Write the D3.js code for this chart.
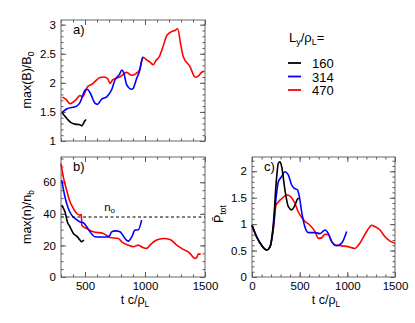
<!DOCTYPE html>
<html>
<head>
<meta charset="utf-8">
<script src="https://cdn.jsdelivr.net/npm/d3@7"></script>
<style>
  body { margin: 0; background: #fff; }
  text { font-family: "Liberation Sans", Arial, sans-serif; fill: #000; }
</style>
</head>
<body>
<svg id="chart" width="415" height="323"></svg>
<script>
// legend values (L_y / rho_L)
const sizes = ["160", "314", "470"];
const colors = ["#000000", "#0000ff", "#ff0000"];

// panel a) max(B)/B0 vs t c/rho_L  -- [t, value]
const magB160 = [[308,1.49],[347,1.39],[381,1.32],[417,1.29],[458,1.28],[472,1.26],[500,1.35],[510,1.37]];
const magB314 = [[308,1.49],[347,1.55],[431,1.60],[458,1.66],[500,1.87],[519,1.89],[542,1.83],[583,1.65],[603,1.63],
  [639,1.72],[681,1.76],[722,1.88],[750,2.05],[786,2.14],[808,2.22],[822,2.18],[847,1.97],[889,1.89],[900,1.90],
  [931,2.08],[953,2.19],[980,2.43],[986,2.44]];
const magB470 = [[311,1.75],[340,1.72],[375,1.64],[420,1.70],[458,1.78],[480,1.76],[519,1.93],[560,1.98],[625,2.09],
  [660,2.10],[690,2.07],[708,1.99],[730,2.05],[790,2.10],[847,2.18],[889,2.13],[925,2.16],[953,2.22],[986,2.44],
  [1010,2.40],[1040,2.36],[1069,2.31],[1090,2.38],[1119,2.45],[1150,2.62],[1181,2.81],[1222,2.88],[1250,2.90],
  [1272,2.93],[1300,2.63],[1319,2.45],[1375,2.28],[1417,2.10],[1440,2.11],[1478,2.19],[1490,2.20]];

// panel b) max(n)/n_b vs t c/rho_L
const dens160 = [[306,45.5],[320,43.5],[333,41.3],[353,34.9],[375,31.8],[403,27.6],[431,25.9],[458,23.4],[472,22.3],[490,23.4]];
const dens314 = [[306,61.3],[333,50.7],[361,43.4],[389,39.2],[417,37.1],[458,34.9],[486,34.4],[514,31.8],[542,28.6],
  [583,25.5],[625,25.3],[681,25.3],[708,26.5],[722,28.6],[750,29.2],[792,28.6],[833,24.4],[861,22.7],[889,25.3],
  [917,29.7],[944,29.9],[972,36.0]];
const dens470 = [[300,71.8],[319,63.4],[347,55.0],[375,47.6],[403,43.4],[431,40.2],[458,39.2],[470,39.6],[473,33.0],
  [486,31.8],[520,30.5],[569,28.6],[653,27.6],[708,25.0],[778,24.4],[806,22.3],[861,20.2],[903,19.2],[944,20.2],
  [986,18.5],[1014,18.1],[1042,20.2],[1097,23.4],[1153,24.4],[1208,23.8],[1264,20.2],[1319,17.5],[1375,15.0],
  [1403,12.4],[1417,11.8],[1431,12.4],[1444,14.5],[1464,14.5]];
const n0Level = 38;

// panel c) P_tot vs t c/rho_L
const pTot160 = [[0,0.98],[49,0.76],[101,0.60],[154,0.51],[189,0.57],[224,1.01],[259,1.90],[276,2.15],[294,2.18],
  [311,2.09],[346,1.64],[381,1.33],[416,1.27],[451,1.36],[476,1.47],[492,1.49]];
const pTot314 = [[0,0.98],[49,0.76],[101,0.60],[154,0.51],[189,0.57],[224,0.95],[252,1.49],[276,1.80],[311,1.90],
  [346,1.99],[381,1.93],[416,1.74],[441,1.68],[476,1.65],[497,1.52],[521,1.23],[556,0.94],[591,0.84],[661,0.84],
  [713,0.82],[766,0.89],[801,0.82],[836,0.67],[888,0.59],[941,0.64],[993,0.86]];
const pTot470 = [[0,0.98],[49,0.76],[101,0.60],[154,0.51],[189,0.57],[224,0.90],[252,1.36],[276,1.42],[311,1.48],
  [364,1.55],[398,1.53],[451,1.39],[486,1.23],[521,1.13],[556,1.05],[608,0.98],[661,0.86],[696,0.73],[730,0.74],
  [766,0.81],[801,0.80],[836,0.67],[888,0.60],[993,0.58],[1080,0.54],[1115,0.60],[1203,0.86],[1256,0.98],
  [1291,0.95],[1343,0.89],[1395,0.76],[1448,0.68],[1500,0.64]];

const svg = d3.select("#chart");

function panel(opt) {
  const { left, top, right, bottom, xDomain, yDomain, xMajor, xMinor, yMajor, yMinor,
          xLabels, yFormat, series, tag } = opt;
  const x = d3.scaleLinear().domain(xDomain).range([left, right]);
  const y = d3.scaleLinear().domain(yDomain).range([bottom, top]);
  const g = svg.append("g");

  const ticks = (lo, hi, step) => d3.range(Math.ceil(lo / step) * step, hi + 1e-9, step);
  const xMaj = ticks(xDomain[0], xDomain[1], xMajor);
  const xMin = ticks(xDomain[0], xDomain[1], xMinor);
  const yMaj = ticks(yDomain[0], yDomain[1], yMajor);
  const yMin = ticks(yDomain[0], yDomain[1], yMinor);

  const axisSide = (axisFn, scale, vals, size, fmt, shift) => {
    const ax = axisFn(scale).tickValues(vals).tickSizeInner(-size).tickSizeOuter(0).tickPadding(5);
    ax.tickFormat(fmt || (() => ""));
    const ag = g.append("g").attr("transform", shift).call(ax);
    ag.select(".domain").remove();
    ag.selectAll("line").attr("stroke", "#555");
    ag.selectAll("text").attr("font-size", 11.5).style("font-family", "Liberation Sans, Arial, sans-serif");
    return ag;
  };

  // bottom / top
  axisSide(d3.axisBottom, x, xMin, 2.5, null, `translate(0,${bottom})`);
  axisSide(d3.axisBottom, x, xMaj, 5, xLabels ? d3.format("d") : null, `translate(0,${bottom})`);
  axisSide(d3.axisTop, x, xMin, 2.5, null, `translate(0,${top})`);
  axisSide(d3.axisTop, x, xMaj, 5, null, `translate(0,${top})`);
  // left / right
  axisSide(d3.axisLeft, y, yMin, 2.5, null, `translate(${left},0)`);
  axisSide(d3.axisLeft, y, yMaj, 5, yFormat, `translate(${left},0)`);
  axisSide(d3.axisRight, y, yMin, 2.5, null, `translate(${right},0)`);
  axisSide(d3.axisRight, y, yMaj, 5, null, `translate(${right},0)`);

  g.append("rect")
    .attr("x", left).attr("y", top)
    .attr("width", right - left).attr("height", bottom - top)
    .attr("fill", "none").attr("stroke", "#666").attr("stroke-width", 1);

  const line = d3.line().x(d => x(d[0])).y(d => y(d[1])).curve(d3.curveMonotoneX);
  // red first, then blue, then black on top
  [2, 1, 0].forEach(i => {
    g.append("path")
      .datum(series[i])
      .attr("fill", "none")
      .attr("stroke", colors[i])
      .attr("stroke-width", 1.6)
      .attr("stroke-linejoin", "round")
      .attr("d", line);
  });

  g.append("text")
    .attr("x", left + 12).attr("y", top + 14)
    .attr("font-size", 13)
    .text(tag);

  return { x, y, g };
}

const pa = panel({
  left: 61, top: 20, right: 205, bottom: 141,
  xDomain: [300, 1500], yDomain: [1, 3.08],
  xMajor: 500, xMinor: 100, yMajor: 0.5, yMinor: 0.1,
  xLabels: false, yFormat: d3.format("~g"),
  series: [magB160, magB314, magB470], tag: "a)"
});

const pb = panel({
  left: 61, top: 157, right: 205, bottom: 277,
  xDomain: [300, 1500], yDomain: [0, 76],
  xMajor: 500, xMinor: 100, yMajor: 20, yMinor: 5,
  xLabels: true, yFormat: d3.format("d"),
  series: [dens160, dens314, dens470], tag: "b)"
});

// n0 reference line
pb.g.append("line")
  .attr("x1", pb.x(300)).attr("x2", pb.x(1500))
  .attr("y1", pb.y(n0Level)).attr("y2", pb.y(n0Level))
  .attr("stroke", "#000").attr("stroke-width", 1.2)
  .attr("stroke-dasharray", "3,2.5");
const n0 = pb.g.append("text")
  .attr("x", pb.x(660)).attr("y", pb.y(n0Level) - 6)
  .attr("font-size", 11.5);
n0.append("tspan").text("n");
n0.append("tspan").attr("font-size", 8).attr("dy", 2).text("o");

const pc = panel({
  left: 252, top: 157, right: 395, bottom: 277,
  xDomain: [0, 1500], yDomain: [0, 2.27],
  xMajor: 500, xMinor: 100, yMajor: 0.5, yMinor: 0.1,
  xLabels: true, yFormat: d3.format("~g"),
  series: [pTot160, pTot314, pTot470], tag: "c)"
});

// axis titles
function yTitle(cx, cy, main, sub) {
  const t = svg.append("text")
    .attr("transform", `translate(${cx},${cy}) rotate(-90)`)
    .attr("text-anchor", "middle")
    .attr("font-size", 12.5);
  t.append("tspan").text(main);
  t.append("tspan").attr("font-size", 8.5).attr("dy", 3).text(sub);
}
yTitle(31, 80, "max(B)/B", "0");
yTitle(31, 217, "max(n)/n", "b");
yTitle(223, 214, "P\u0304", "tot");

function xTitle(cx, cy) {
  const t = svg.append("text")
    .attr("x", cx).attr("y", cy)
    .attr("text-anchor", "middle")
    .attr("font-size", 12.5);
  t.append("tspan").text("t c/\u03c1");
  t.append("tspan").attr("font-size", 8.5).attr("dy", 3).text("L");
}
xTitle(135, 304);
xTitle(326, 304);

// legend
const leg = svg.append("g");
const lt = leg.append("text").attr("x", 289).attr("y", 42).attr("font-size", 13);
lt.append("tspan").text("L");
lt.append("tspan").attr("font-size", 9).attr("dy", 3).text("y");
lt.append("tspan").attr("dy", -3).text("/\u03c1");
lt.append("tspan").attr("font-size", 9).attr("dy", 3).text("L");
lt.append("tspan").attr("dy", -3).text("=");

const legY = d3.scalePoint().domain(sizes).range([63, 90]);
sizes.forEach((s, i) => {
  leg.append("line")
    .attr("x1", 288).attr("x2", 301)
    .attr("y1", legY(s)).attr("y2", legY(s))
    .attr("stroke", colors[i]).attr("stroke-width", 1.8);
  leg.append("text")
    .attr("x", 312).attr("y", legY(s) + 5)
    .attr("font-size", 13)
    .text(s);
});
</script>
</body>
</html>
